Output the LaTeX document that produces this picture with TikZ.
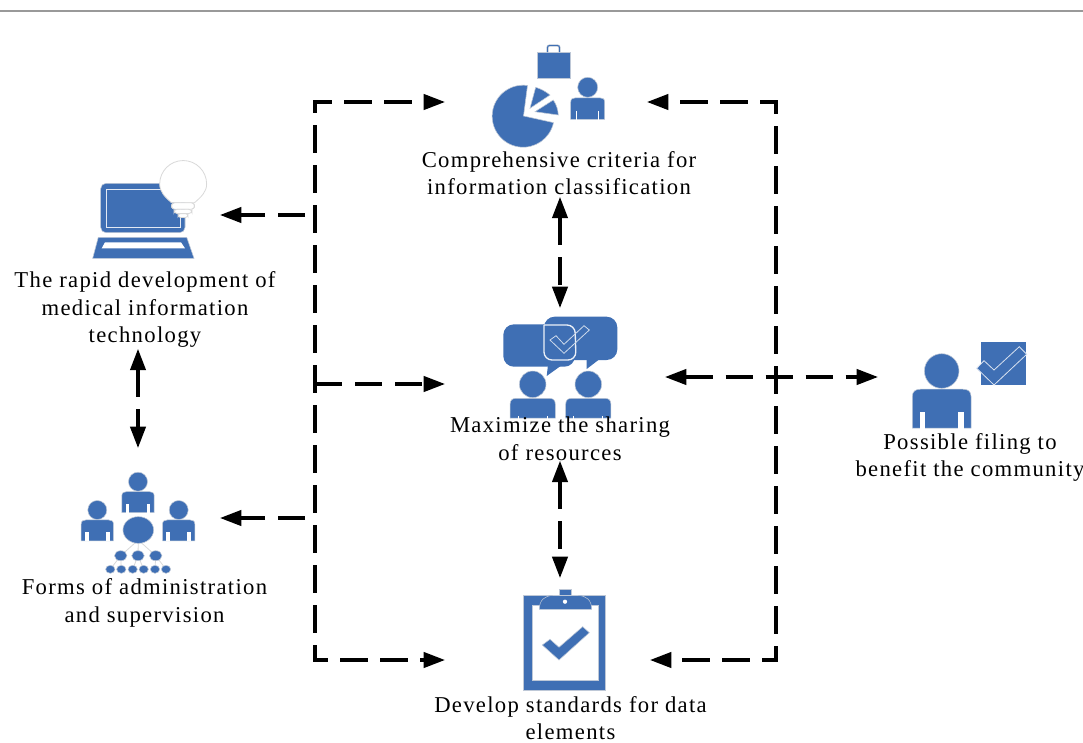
\documentclass[tikz,border=0pt]{standalone}
\usepackage{fontspec}
\setmainfont[LetterSpace=5.8]{Liberation Serif}
\usetikzlibrary{arrows.meta}
\definecolor{iconblue}{RGB}{63,111,180}
\definecolor{iconedge}{RGB}{190,200,215}
\tikzset{
  x=0.75pt,y=-0.75pt,
  icon/.style={fill=iconblue,draw=iconedge,line width=0.4pt},
  hairline/.style={draw=white!85!black,line width=0.6pt},
  port/.style={inner sep=0pt,outer sep=0pt},
  label/.style={align=center,inner sep=0pt,outer sep=0pt,font=\fontsize{17}{20.7}\selectfont},
  dashline/.style={line width=2.4pt,dash pattern=on 20.5pt off 9.5pt,black},
  gapfirst/.style={dash phase=20.5pt},
  tip/.style={-{Triangle[length=16pt,width=11.5pt]}},
  tips/.style={{Triangle[length=16pt,width=11.5pt]}-{Triangle[length=16pt,width=11.5pt]}},
}
% centre x, head centre y, head radius (px), body bottom (units of r/10), notch half-width
\newcommand{\personicon}[5]{%
  \begin{scope}[shift={(#1,#2)},x=#3*0.075pt,y=-#3*0.075pt]
    \fill[icon] (0,0) circle[radius=#3*0.75pt];
    \path[icon] (-17,#4) -- (-17,15) .. controls (-17,11.5) and (-15,10.5) .. (-12,10.5)
      -- (12,10.5) .. controls (15,10.5) and (17,11.5) .. (17,15) -- (17,#4) -- cycle;
    \fill[white] (-11-#5,23.5) rectangle (-11+#5,#4+0.3);
    \fill[white] (11-#5,23.5) rectangle (11+#5,#4+0.3);
  \end{scope}}
\begin{document}
\begin{tikzpicture}
\useasboundingbox (0,0) rectangle (1083,743);
\fill[white] (0,0) rectangle (1083,743);
\draw[gray!80,line width=0.8pt] (0,11) -- (1083,11);

% invisible anchor nodes of the icons
\node[port,minimum width=151.5pt,minimum height=69pt] (criticon) at (546,102) {};
\node[port,minimum width=123pt,minimum height=52.5pt] (techicon) at (138,215) {};
\node[port,minimum width=123pt,minimum height=105pt] (formsicon) at (138,518) {};
\node[port,minimum width=85.5pt,minimum height=82.5pt] (shareicon) at (560,363) {};
\node[port,minimum width=153.75pt,minimum height=123pt] (devicon) at (547.5,660) {};
\node[port,minimum width=114pt,minimum height=55.5pt] (filingicon) at (954,377) {};

% criteria icon
\path[icon] (537,52) rectangle (570,78);
\draw[iconedge,line width=1.6pt,rounded corners=1.5pt] (547.5,52) -- (547.5,45.5) -- (559.5,45.5) -- (559.5,52);
\draw[iconblue,line width=0.7pt,rounded corners=1.5pt] (547.5,52) -- (547.5,45.5) -- (559.5,45.5) -- (559.5,52);
\path[icon] (523.5,116) -- (527.5,85.5) arc[start angle=82,end angle=348,radius=23.25pt] -- cycle;
\path[icon] (530,108.3) -- (535.7,87.3) to[bend left=10] (550,95) -- cycle;
\path[icon] (535,111.7) -- (553.3,100) to[bend left=14] (558.3,115) -- cycle;
\personicon{587.7}{87.3}{10}{32}{0.25}

% technology icon
\path[icon,rounded corners=4pt] (100.7,232.7) -- (100.7,183.3) -- (185,183.3) -- (185,232.7) -- cycle;
\draw[white!85!iconblue,line width=0.6pt] (106,189) rectangle (180,227.3);
\path[icon] (98.3,237.3) -- (186.7,237.3) -- (194,258.3) -- (92.7,258.3) -- cycle;
\fill[white] (105,242.3) -- (181,242.3) -- (185,248.3) -- (101.7,248.3) -- cycle;
\path[fill=white,hairline] (171.5,202.7) .. controls (165,197) and (159.7,192) .. (159.7,184)
   arc[start angle=180,end angle=0,radius=17.6pt]
   .. controls (206.7,192) and (201,197) .. (194.5,202.7) -- cycle;
\path[fill=white,hairline,rounded corners=2.5pt] (171.5,202.7) rectangle (194.5,209.3);
\path[fill=white,hairline,rounded corners=2.5pt] (174,209.3) rectangle (192,213.6);
\path[fill=white,hairline,rounded corners=2pt] (178,213.6) rectangle (188,217.5);

% forms icon
\personicon{138}{481.7}{9.5}{32.5}{2}
\personicon{97.3}{510}{9.5}{32.5}{2}
\personicon{178.7}{510}{9.5}{32.5}{2}
\draw[hairline] (138.3,540) -- (120.7,555.7) (138.3,540) -- (138,555.7) (138.3,540) -- (155.7,555.7)
  (120.7,555.7) -- (110.3,569.3) (120.7,555.7) -- (121.3,569.3) (138,555.7) -- (132.7,569.3)
  (138,555.7) -- (143.7,569.3) (155.7,555.7) -- (155,569.3) (155.7,555.7) -- (166,569.3);
\path[icon] (138.3,530) ellipse[x radius=11.5pt,y radius=10pt];
\foreach \xx in {120.7,138,155.7} {\path[icon] (\xx,555.7) ellipse[x radius=4.7pt,y radius=3.75pt];}
\foreach \xx in {110.3,121.3,132.7,143.7,155,166} {\path[icon] (\xx,569.3) ellipse[x radius=3.5pt,y radius=3pt];}

% sharing icon
\path[fill=iconblue,rounded corners=8pt] (503.3,324.3) -- (575,324.3) -- (575,366.7) -- (503.3,366.7) -- cycle;
\fill[iconblue] (548,365) -- (546.7,376) -- (562,365) -- cycle;
\path[fill=iconblue,rounded corners=8pt] (544,316.7) -- (617.3,316.7) -- (617.3,360) -- (544,360) -- cycle;
\fill[iconblue] (586.7,358) -- (586.7,369) -- (601,358) -- cycle;
\draw[white!90!iconblue,line width=1pt,rounded corners=6pt] (544,325) -- (575,325) -- (576,360) -- (544,360) -- (544,325);
\draw[white!75!iconblue,line width=0.6pt] (550,340) -- (556,335.7) -- (564,344.3) -- (584,325.7) -- (589.3,330) -- (564,353.3) -- cycle;
\personicon{532.7}{384.3}{13.3}{25.5}{0.35}
\personicon{588.3}{384.3}{13.3}{25.5}{0.35}

% standards icon
\path[fill=iconblue,even odd rule,draw=iconedge,line width=0.4pt] (523.3,595.7) rectangle (605,690) (532.7,605) rectangle (598.3,680.7);
\path[icon] (559.3,596) -- (559.3,589.3) -- (571,589.3) -- (571,596) -- cycle;
\path[icon] (539.3,609.3) .. controls (539.3,600) and (545,595.5) .. (553,595.5) -- (578,595.5) .. controls (586,595.5) and (591.7,600) .. (591.7,609.3) -- cycle;
\fill[white] (565,601.7) circle[radius=1.6pt];
\path[icon] (542.3,645) -- (550,639.3) -- (559,647.3) -- (582.7,626.7) -- (589.3,632.7) -- (559,660) -- cycle;

% filing icon
\personicon{941.7}{371}{17.3}{33}{1.6}
\fill[iconblue] (981,342.3) rectangle (1026,385);
\path[fill=iconblue,draw=white!80!iconblue,line width=0.6pt] (976.7,368.3) -- (984,360.7) -- (994,370) -- (1019.3,346.7) -- (1026.7,354.3) -- (994,385) -- cycle;

% labels
\node[label] (critlabel) at (559,173) {Comprehensive criteria for\\information classification};
\node[label] (techlabel) at (145,309.5) {The rapid development of\\medical information\\technology};
\node[label] (formslabel) at (144.5,603) {Forms of administration\\and supervision};
\node[label] (sharelabel) at (560,439) {Maximize the sharing\\of resources};
\node[label] (devlabel) at (570.5,718) {Develop standards for data\\elements};
\node[label] (filinglabel) at (970,457.5) {Possible filing to\\benefit the community};

% bus junctions
\coordinate (lefttop) at (315,102);
\coordinate (leftbot) at (315,660);
\coordinate (righttop) at (776,102);
\coordinate (rightbot) at (776,660);
\coordinate (leftmid) at (315,384);
\coordinate (lefttech) at (305,215);
\coordinate (leftforms) at (305,518);
\coordinate (sharewest) at (445,384);
\coordinate (shareeast) at (665,377);

% connectors
\draw[dashline,gapfirst,tips] (criticon.west) -- (lefttop) -- (leftbot) -- (devicon.west);
\draw[dashline,gapfirst,tips] (criticon.east) -- (righttop) -- (rightbot) -- (devicon.east);
\draw[dashline,tip] (leftmid) -- (sharewest);
\draw[dashline,tip] (lefttech) -- (techicon.east);
\draw[dashline,tip] (leftforms) -- (formsicon.east);
\draw[dashline,tips] (shareeast) -- (filingicon.west);
\draw[dashline,tips,shorten <=1.5pt] (critlabel.south -| shareicon.north) -- (shareicon.north);
\draw[dashline,tips] (sharelabel.south) -- (sharelabel.south |- devicon.north);
\draw[dashline,tips,shorten <=1pt] (techlabel.south -| formsicon.north) -- (formsicon.north);
\end{tikzpicture}
\end{document}
